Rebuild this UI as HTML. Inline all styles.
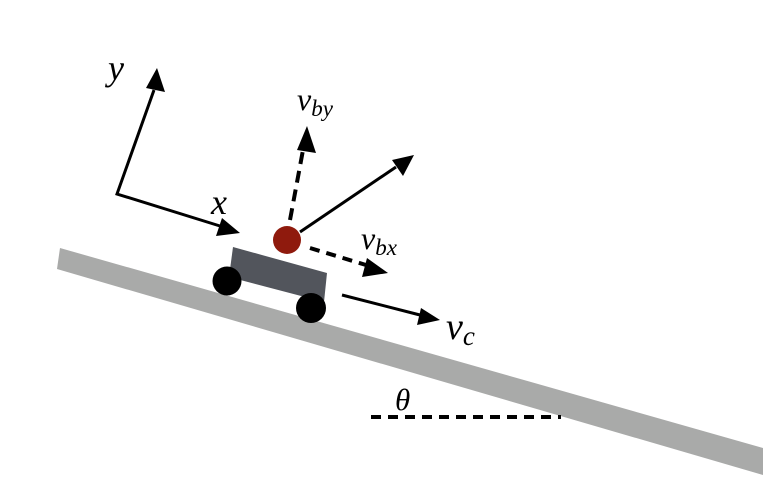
<!DOCTYPE html>
<html><head><style>body{margin:0;background:#fff}svg{display:block}text{font-family:"Liberation Serif",serif;font-style:italic;fill:#000}</style></head>
<body>
<svg width="763" height="488" viewBox="0 0 763 488" xmlns="http://www.w3.org/2000/svg">
<polygon points="60,248 763,448 763,475 57,269" fill="#a9aaa9"/>
<polygon points="233,247 327,273 324,302 229,277" fill="#52555c"/>
<circle cx="227" cy="281" r="14.5" fill="#000"/>
<circle cx="311" cy="308" r="15" fill="#000"/>
<circle cx="287" cy="240" r="14" fill="#8f1a0d"/>
<g stroke="#000" stroke-width="3" fill="none">
<polyline points="154,90 117,194 220,226"/>
<line x1="300" y1="232" x2="396" y2="167"/>
<line x1="342" y1="295" x2="420" y2="315"/>
<line x1="290" y1="220" x2="303" y2="150" stroke-width="4" stroke-dasharray="12,7"/>
<line x1="310" y1="248" x2="366" y2="265" stroke-width="4" stroke-dasharray="10,7"/>
<line x1="371" y1="417" x2="561" y2="417" stroke-width="4" stroke-dasharray="10,7"/>
</g>
<g fill="#000">
<path d="M157,68 L165,92 L146,88 Z"/>
<path d="M240,233 L216,236 L222,218 Z"/>
<path d="M414,155 L403,176 L392,160 Z"/>
<path d="M307,126 L316,153 L297,150 Z"/>
<path d="M388,273 L362,277 L367,258 Z"/>
<path d="M440,320 L417,325 L421,308 Z"/>
</g>
<text x="108" y="80" font-size="36">y</text>
<text x="211" y="214" font-size="36">x</text>
<text x="297" y="110" font-size="32">v<tspan font-size="23" dy="6">by</tspan></text>
<text x="361" y="249" font-size="32">v<tspan font-size="23" dy="6">bx</tspan></text>
<text x="446" y="339" font-size="38">v<tspan font-size="27" dy="6">c</tspan></text>
<text x="395" y="410" font-size="31">θ</text>
</svg>
</body></html>
